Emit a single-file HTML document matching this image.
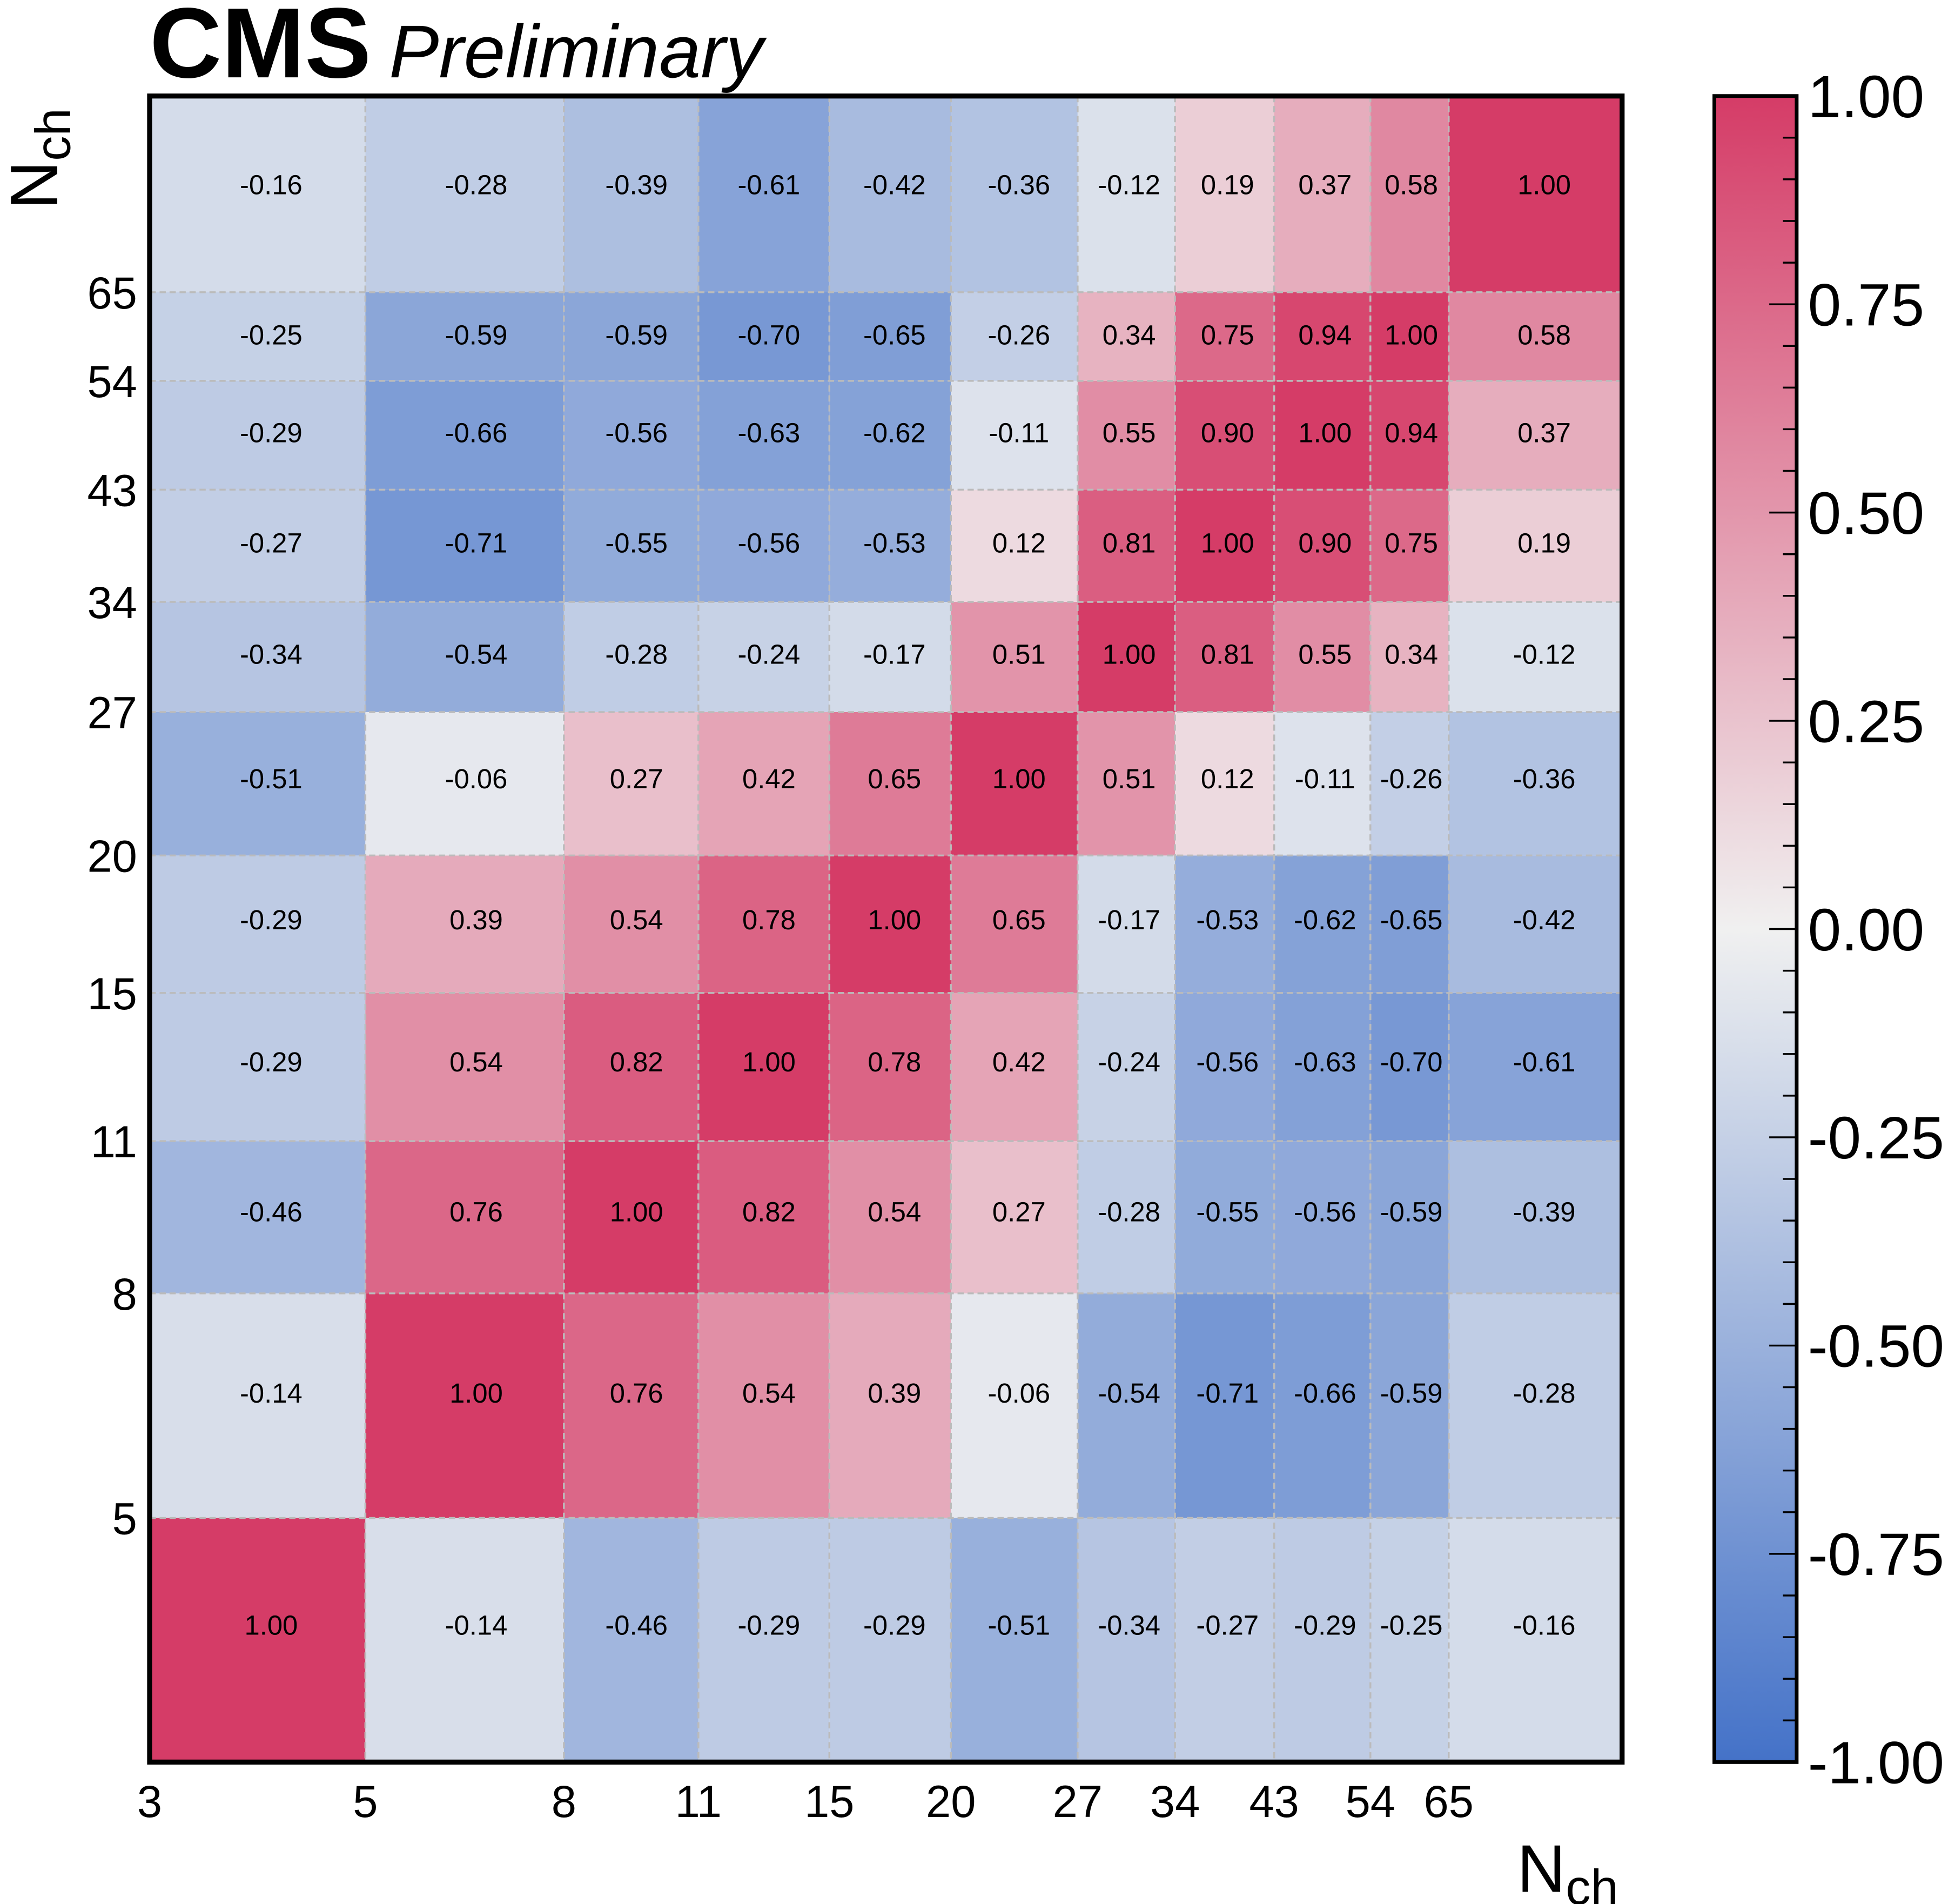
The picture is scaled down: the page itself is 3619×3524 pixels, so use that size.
<!DOCTYPE html>
<html><head><meta charset="utf-8"><style>
html,body{margin:0;padding:0;background:#fff;}
svg{display:block;font-family:"Liberation Sans",sans-serif;}
</style></head><body>
<svg id="chart" width="3619" height="3524" viewBox="0 0 1568 1526.8" preserveAspectRatio="none" xmlns="http://www.w3.org/2000/svg">
<g id="cells"></g>
<g id="grid"></g>
<g id="texts"></g>
<rect x="120" y="77" width="1181" height="1336" fill="none" stroke="#000" stroke-width="4"/>
<g id="xticks"></g>
<g id="yticks"></g>
<defs><linearGradient id="cg" x1="0" y1="1" x2="0" y2="0">
<stop offset="0" stop-color="#4472c8"/><stop offset="0.5" stop-color="#f0f0f0"/><stop offset="1" stop-color="#d53c67"/></linearGradient></defs>
<rect x="1375" y="77" width="66" height="1336" fill="url(#cg)" stroke="#000" stroke-width="3"/>
<g id="cbticks"></g>
<text x="120" y="62" font-size="80" font-weight="bold">CMS</text>
<text x="312" y="62" font-size="60" font-style="italic">Preliminary</text>
<text x="1298" y="1517" font-size="54" text-anchor="end">N<tspan font-size="40" dy="10">ch</tspan></text>
<text transform="translate(46,168) rotate(-90)" font-size="54">N<tspan font-size="40" dy="10">ch</tspan></text>
</svg>
<script>
const edges=[3,5,8,11,15,20,27,34,43,54,65,98];
const tickLabels=["3","5","8","11","15","20","27","34","43","54","65"];
const cbLabels=["1.00","0.75","0.50","0.25","0.00","-0.25","-0.50","-0.75","-1.00"];
const row0=[1.00,-0.14,-0.46,-0.29,-0.29,-0.51,-0.34,-0.27,-0.29,-0.25,-0.16];
const row1=[-0.14,1.00,0.76,0.54,0.39,-0.06,-0.54,-0.71,-0.66,-0.59,-0.28];
const row2=[-0.46,0.76,1.00,0.82,0.54,0.27,-0.28,-0.55,-0.56,-0.59,-0.39];
const row3=[-0.29,0.54,0.82,1.00,0.78,0.42,-0.24,-0.56,-0.63,-0.70,-0.61];
const row4=[-0.29,0.39,0.54,0.78,1.00,0.65,-0.17,-0.53,-0.62,-0.65,-0.42];
const row5=[-0.51,-0.06,0.27,0.42,0.65,1.00,0.51,0.12,-0.11,-0.26,-0.36];
const row6=[-0.34,-0.54,-0.28,-0.24,-0.17,0.51,1.00,0.81,0.55,0.34,-0.12];
const row7=[-0.27,-0.71,-0.55,-0.56,-0.53,0.12,0.81,1.00,0.90,0.75,0.19];
const row8=[-0.29,-0.66,-0.56,-0.63,-0.62,-0.11,0.55,0.90,1.00,0.94,0.37];
const row9=[-0.25,-0.59,-0.59,-0.70,-0.65,-0.26,0.34,0.75,0.94,1.00,0.58];
const row10=[-0.16,-0.28,-0.39,-0.61,-0.42,-0.36,-0.12,0.19,0.37,0.58,1.00];
const rows=[row0,row1,row2,row3,row4,row5,row6,row7,row8,row9,row10];

const NS="http://www.w3.org/2000/svg";
const X0=120,X1=1301,Y0=1413,Y1=77;
const L0=Math.log(edges[0]),L1=Math.log(edges[edges.length-1]);
const xs=v=>X0+(Math.log(v)-L0)/(L1-L0)*(X1-X0);
const ys=v=>Y0-(Math.log(v)-L0)/(L1-L0)*(Y0-Y1);
const cy=v=>Y0-(v+1)/2*(Y0-Y1);
function col(v){
  const z=[240,240,240],p=[213,60,103],n=[68,114,200];
  const t=Math.min(1,Math.abs(v)),e=v>=0?p:n;
  return "rgb("+z.map((c,i)=>Math.round(c+(e[i]-c)*t)).join(",")+")";
}
function mk(tag,attrs,parent){const el=document.createElementNS(NS,tag);for(const k in attrs)el.setAttribute(k,attrs[k]);parent.appendChild(el);return el;}
const gC=document.getElementById('cells'),gG=document.getElementById('grid'),gT=document.getElementById('texts');
rows.forEach((r,i)=>{r.forEach((v,j)=>{
  const x=xs(edges[j]),x2=xs(edges[j+1]),y=ys(edges[i+1]),y2=ys(edges[i]);
  const rc=mk('rect',{x:x,y:y,width:x2-x,height:y2-y,fill:col(v)},gC);
  
  
  const tx=xs((edges[j]+edges[j+1])/2),ty=ys((edges[i]+edges[i+1])/2);
  const t=mk('text',{x:tx,y:ty+8,'font-size':22,'text-anchor':'middle'},gT);
  t.textContent=v.toFixed(2);
  
  
});});
edges.slice(1,-1).forEach(e=>{
  mk('line',{x1:xs(e),x2:xs(e),y1:Y1,y2:Y0,stroke:'#bbb','stroke-width':1.5,'stroke-dasharray':'5,3'},gG);
  mk('line',{x1:X0,x2:X1,y1:ys(e),y2:ys(e),stroke:'#bbb','stroke-width':1.5,'stroke-dasharray':'5,3'},gG);
});
const gX=document.getElementById('xticks'),gY=document.getElementById('yticks');
tickLabels.forEach((l,i)=>{
  const v=edges[i];
  const tx=mk('text',{x:xs(v),y:1457,'font-size':36,'text-anchor':'middle'},gX);
  tx.textContent=l;
  
  
  if(i>0){
    const ty=mk('text',{x:110,y:ys(v)+13,'font-size':36,'text-anchor':'end'},gY);
    ty.textContent=l;
    
    
  }
});
const gB=document.getElementById('cbticks');
for(let k=0;k<=40;k++){
  const v=1-k*0.05,y=cy(v),major=k%5===0;
  mk('line',{x1:1441-(major?22:11),x2:1441,y1:y,y2:y,stroke:'#000','stroke-width':1.5},gB);
}
cbLabels.forEach(l=>{
  const t=mk('text',{x:1450,y:cy(parseFloat(l))+17,'font-size':48},gB);
  t.textContent=l;
  
  
});
</script>
</body></html>
